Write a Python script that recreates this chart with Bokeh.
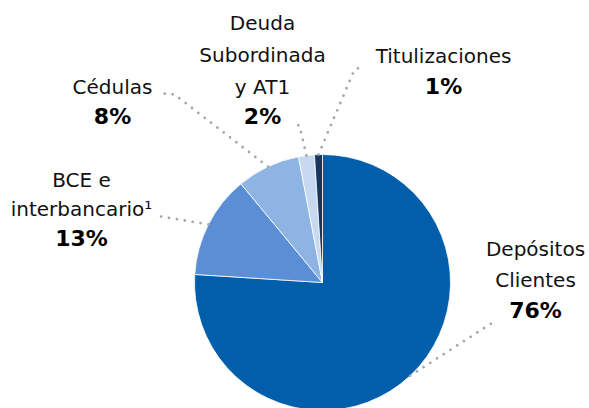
import math
from bokeh.plotting import figure
from bokeh.models import Range1d, ColumnDataSource
from bokeh.core.properties import value
from bokeh.embed import file_html
from bokeh.resources import INLINE

# ---- data ----
categories = ["Depósitos Clientes", "BCE e interbancario¹", "Cédulas",
              "Deuda Subordinada y AT1", "Titulizaciones"]
shares = [76, 13, 8, 2, 1]
pct_labels = ["76%", "13%", "8%", "2%", "1%"]
name_lines = [["Depósitos", "Clientes"], ["BCE e", "interbancario¹"], ["Cédulas"],
              ["Deuda", "Subordinada", "y AT1"], ["Titulizaciones"]]
colors = ["#005EAA", "#5A8FD6", "#8EB4E3", "#C6D9F1", "#17365D"]

W, H = 589, 408
FONT = "DejaVu Sans"


def sy(y):
    # picture y (px from top) -> data y
    return H - y


p = figure(width=W, height=H, output_backend="svg", toolbar_location=None,
           x_range=Range1d(0, W), y_range=Range1d(0, H),
           min_border=0, outline_line_color=None)
p.axis.visible = False
p.grid.visible = False
p.background_fill_color = "white"
p.border_fill_color = "white"

cx, cy, r = 322, sy(282), 128
total = float(sum(shares))
starts, ends, mids = [], [], []
cum = 0.0
for s in shares:
    a0 = math.pi / 2 - 2 * math.pi * cum / total
    cum += s
    a1 = math.pi / 2 - 2 * math.pi * cum / total
    starts.append(a0)
    ends.append(a1)
    mids.append((a0 + a1) / 2)

src = ColumnDataSource(dict(start=starts, end=ends, color=colors, cat=categories))
p.wedge(x=cx, y=cy, radius=r, start_angle="start", end_angle="end",
        direction="clock", fill_color="color", line_color="white",
        line_width=0.8, source=src)

# leader lines: start at slice mid on the rim, then layout waypoints (picture px)
waypoints = [
    [(497, 319)],
    [(160, 216)],
    [(174, 94), (163, 93)],
    [(299, 125), (290, 124)],
    [(354, 69), (363, 66)],
]
for m, wp in zip(mids, waypoints):
    xs = [cx + r * math.cos(m)] + [w[0] for w in wp]
    ys = [cy + r * math.sin(m)] + [sy(w[1]) for w in wp]
    p.line(xs, ys, line_color="#A6A6A6", line_width=2.8, line_dash="0 8",
           line_cap="round")

# label layout: (center x, cap-centre y of name lines, cap-centre y of pct)
layout = [
    (535, [250, 281], 312),
    (81, [181, 210], 240),
    (112, [88], 118),
    (262, [24, 56, 88], 118),
    (443, [57], 88),
]
for (lx, cys, pc), names, pct in zip(layout, name_lines, pct_labels):
    for nm, c in zip(names, cys):
        p.text(x=[lx], y=[sy(c - 2)], text=[nm], text_align="center",
               text_baseline="middle", text_font=value(FONT),
               text_font_size="20px", text_color="#111111")
    p.text(x=[lx], y=[sy(pc - 2)], text=[pct], text_align="center",
           text_baseline="middle", text_font=value(FONT),
           text_font_size="22px", text_font_style="bold", text_color="#000000")

open("out.html", "w").write(file_html(p, INLINE))
